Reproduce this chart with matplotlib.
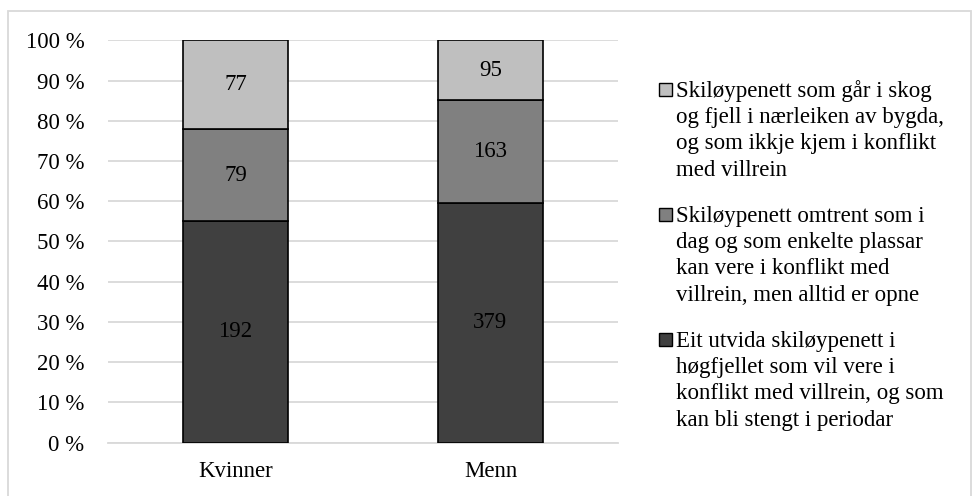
import matplotlib
matplotlib.use('Agg')
import matplotlib.pyplot as plt
from matplotlib.patches import Rectangle
import numpy as np

plt.rcParams['font.family'] = ['Liberation Serif', 'DejaVu Serif']

# Data
categories = ['Kvinner', 'Menn']
series_names = [
    'Eit utvida skiløypenett i\nhøgfjellet som vil vere i\nkonflikt med villrein, og som\nkan bli stengt i periodar',
    'Skiløypenett omtrent som i\ndag og som enkelte plassar\nkan vere i konflikt med\nvillrein, men alltid er opne',
    'Skiløypenett som går i skog\nog fjell i nærleiken av bygda,\nog som ikkje kjem i konflikt\nmed villrein',
]
counts_expand = [192, 379]
counts_today = [79, 163]
counts_forest = [77, 95]
colors = ['#404040', '#808080', '#bfbfbf']

counts = np.array([counts_expand, counts_today, counts_forest], dtype=float)
shares = counts / counts.sum(axis=0) * 100

FS = 16.5
W, H = 973.0, 496.0

fig = plt.figure(figsize=(9.73, 4.96), dpi=100)
fig.patch.set_facecolor('white')
ax = fig.add_axes([108 / W, 1 - 442.7 / H, 510 / W, 402.4 / H])

x = np.arange(len(categories))
bottom = np.zeros(len(categories))
for i in range(len(series_names)):
    ax.bar(x, shares[i], width=0.41, bottom=bottom, color=colors[i],
           edgecolor='black', linewidth=1.2, zorder=3)
    for j in range(len(categories)):
        ax.text(x[j], bottom[j] + shares[i][j] / 2, '%d' % counts[i][j],
                ha='center', va='center', fontsize=FS, color='black', zorder=4)
    bottom += shares[i]

ax.set_xlim(-0.5, 1.5)
ax.set_ylim(0, 100)
ax.set_yticks(np.arange(0, 101, 10))
ax.set_yticklabels(['%d %%' % v for v in range(0, 101, 10)], fontsize=FS)
ax.set_xticks(x)
ax.set_xticklabels(categories, fontsize=FS)
ax.tick_params(axis='y', length=0, pad=17)
ax.tick_params(axis='x', length=0, pad=13)
ax.grid(axis='y', color='#d9d9d9', linewidth=1.3, zorder=0)
for s in ['top', 'right', 'left']:
    ax.spines[s].set_visible(False)
ax.spines['bottom'].set_color('#d9d9d9')
ax.spines['bottom'].set_linewidth(1.3)

# Legend drawn by hand (top entry first, handle next to first line)
legend_baselines = [97, 222, 347]
line_step = 26.2
for k, idx in enumerate([2, 1, 0]):
    yb = legend_baselines[k]
    fig.patches.append(Rectangle((659 / W, 1 - (yb - 1) / H), 13 / W, 13 / H,
                                 transform=fig.transFigure, facecolor=colors[idx],
                                 edgecolor='black', linewidth=1.0))
    for n, line in enumerate(series_names[idx].split('\n')):
        fig.text(676 / W, 1 - (yb + n * line_step) / H, line, fontsize=FS,
                 ha='left', va='baseline', color='black')

# Outer border
fig.patches.append(Rectangle((8 / W, -0.01), 963 / W, 1 - 11 / H + 0.01,
                             transform=fig.transFigure, fill=False,
                             edgecolor='#d9d9d9', linewidth=1.3))

plt.savefig('out.png', dpi=100)
plt.close()
